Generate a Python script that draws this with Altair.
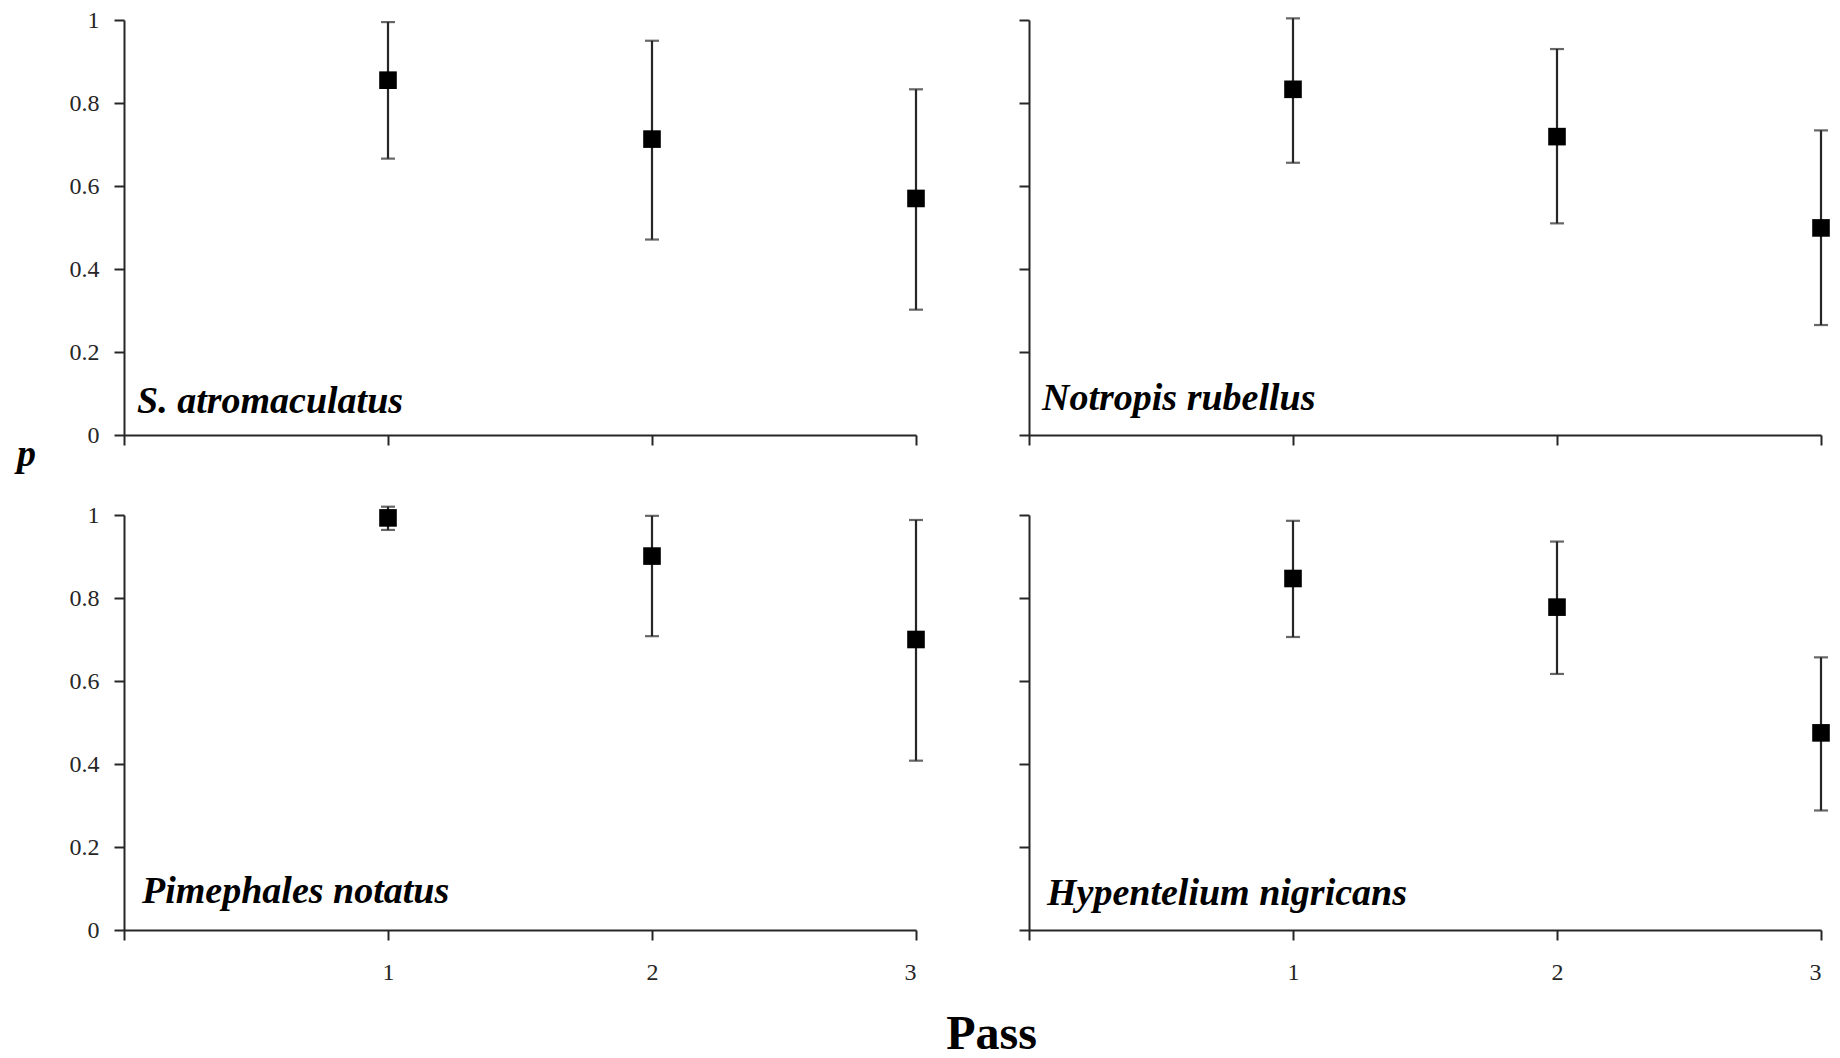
import altair as alt
import pandas as pd

# Capture probability per electrofishing pass, with confidence limits
passes = [1, 2, 3]
species = [
    "S. atromaculatus",
    "Notropis rubellus",
    "Pimephales notatus",
    "Hypentelium nigricans",
]
estimate = [
    [0.855, 0.713, 0.570],
    [0.833, 0.719, 0.499],
    [0.993, 0.901, 0.700],
    [0.847, 0.778, 0.475],
]
lower = [
    [0.666, 0.471, 0.302],
    [0.656, 0.510, 0.265],
    [0.964, 0.708, 0.408],
    [0.706, 0.617, 0.288],
]
upper = [
    [0.995, 0.950, 0.833],
    [1.004, 0.930, 0.734],
    [1.020, 0.998, 0.988],
    [0.986, 0.936, 0.657],
]
x_ticks = [0, 1, 2, 3]
y_ticks = [0, 0.2, 0.4, 0.6, 0.8, 1]

rows = []
for i, sp in enumerate(species):
    for j, ps in enumerate(passes):
        rows.append({"species": sp, "pass": ps, "p": estimate[i][j],
                     "lo": lower[i][j], "hi": upper[i][j]})
df = pd.DataFrame(rows)

SERIF = "Liberation Serif"
INK = "#262626"


def panel(idx, show_y_labels, show_x_labels, label_x, label_y,
          y_title=False, x_title=False):
    sp = species[idx]
    data = df[df["species"] == sp]

    x_kw = dict(values=x_ticks, labels=show_x_labels,
                labelExpr="datum.value == 0 ? '' : datum.label",
                tickSize=10, tickWidth=2, domainWidth=2,
                tickColor=INK, domainColor=INK,
                labelFont=SERIF, labelFontSize=24, labelColor=INK,
                labelPadding=20, grid=False, title=None)
    if x_title:
        x_kw.update(title="Pass", titleFont=SERIF, titleFontSize=48,
                    titleFontWeight="bold", titleColor="black",
                    titleX=867, titleY=104, titleAlign="center",
                    titleBaseline="middle")
    y_kw = dict(values=y_ticks, labels=show_y_labels, format="~g",
                tickSize=10, tickWidth=2, domainWidth=2,
                tickColor=INK, domainColor=INK,
                labelFont=SERIF, labelFontSize=24, labelColor=INK,
                labelPadding=15, grid=False, title=None)
    if y_title:
        y_kw.update(title="p", titleFont=SERIF, titleFontSize=38,
                    titleFontWeight="bold", titleFontStyle="italic",
                    titleColor="black", titleAngle=0,
                    titleX=-98, titleY=445, titleAlign="center",
                    titleBaseline="alphabetic")

    x_scale = alt.Scale(domain=[0, 3], nice=False, zero=False)
    y_scale = alt.Scale(domain=[0, 1], nice=False)
    x_enc = alt.X("pass:Q", scale=x_scale, axis=alt.Axis(**x_kw))
    y_axis = alt.Axis(**y_kw)

    base = alt.Chart(data)
    bars = base.mark_rule(color=INK, strokeWidth=2.2).encode(
        x=x_enc,
        y=alt.Y("lo:Q", scale=y_scale, axis=y_axis),
        y2="hi:Q",
    )
    cap_lo = base.mark_tick(orient="horizontal", size=14, thickness=2.2,
                            color=INK).encode(
        x=x_enc, y=alt.Y("lo:Q", scale=y_scale, axis=y_axis))
    cap_hi = base.mark_tick(orient="horizontal", size=14, thickness=2.2,
                            color=INK).encode(
        x=x_enc, y=alt.Y("hi:Q", scale=y_scale, axis=y_axis))
    points = base.mark_square(size=310, color="black", opacity=1).encode(
        x=x_enc, y=alt.Y("p:Q", scale=y_scale, axis=y_axis))
    label = alt.Chart(pd.DataFrame({"name": [sp]})).mark_text(
        align="left", baseline="alphabetic", font=SERIF, fontSize=38,
        fontStyle="italic", fontWeight="bold", color="black",
    ).encode(x=alt.value(label_x), y=alt.value(label_y), text="name:N")

    return alt.layer(bars, cap_lo, cap_hi, points, label).properties(
        width=792, height=415)


chart = alt.concat(
    panel(0, True, False, 13, 393, y_title=True),
    panel(1, False, False, 13, 390),
    panel(2, True, True, 18, 388, x_title=True),
    panel(3, False, True, 18, 390),
    columns=2,
    spacing={"row": 80, "column": 113},
    bounds="flush",
).properties(
    padding={"left": 16, "top": 8, "right": 5, "bottom": 0},
    background="white",
).configure_view(stroke=None)

chart.save("out.html", embed_options={"renderer": "svg", "actions": False})
